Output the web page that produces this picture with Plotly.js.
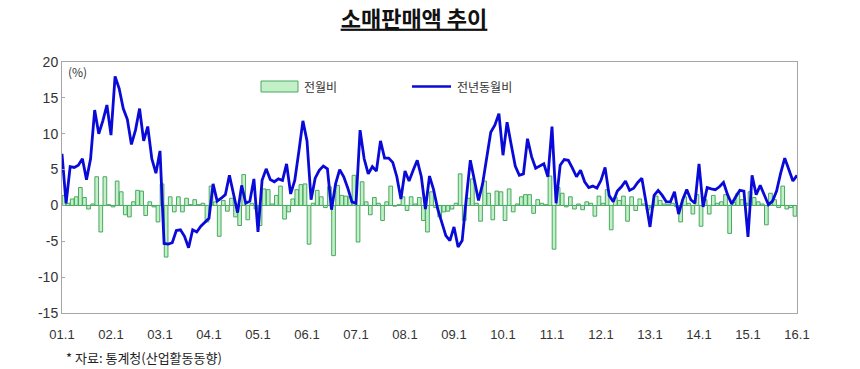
<!DOCTYPE html>
<html>
<head>
<meta charset="utf-8">
<script src="https://cdn.plot.ly/plotly-3.0.1.min.js"></script>
<style>html,body{margin:0;padding:0;background:#fff;}#chart{width:860px;height:369px;}</style>
</head>
<body>
<div id="chart"></div>
<script>
// Year tick labels (every 12 months from 2001.1)
const tickLabels = ["01.1","02.1","03.1","04.1","05.1","06.1","07.1","08.1","09.1","10.1","11.1","12.1","13.1","14.1","15.1","16.1"];
// Y tick values / labels
const yTickVals = [-15, -10, -5, 0, 5, 10, 15, 20];
const yTickText = ["-15", "-10", "-5", "0", "5", "10", "15", "20"];

// 전년동월비 (year-on-year, %), monthly 2001.1 ~ 2016.1
const yoy = [
  7.2, 0.3, 5.4, 5.3, 5.6, 6.5, 3.6, 6.5, 13.3, 10.0, 11.8, 14.0, 9.8,
  18.0, 16.3, 13.5, 12.0, 8.5, 10.5, 13.5, 9.0, 11.0, 6.5, 4.5, 7.6,
  -5.3, -5.4, -5.2, -3.5, -3.4, -4.3, -5.9, -3.4, -3.7, -2.9, -2.4, -1.8,
  3.0, 0.6, 1.0, 1.5, 4.2, 1.6, -1.0, 2.8, 0.3, 0.6, 3.7, -3.7,
  3.5, 5.1, 3.6, 3.3, 3.7, 3.5, 5.8, 1.6, 3.5, 7.5, 11.8, 9.0,
  0.8, 3.8, 4.9, 5.5, 5.1, -0.6, 3.0, 5.0, 4.0, 2.4, 0.5, 0.3,
  10.5, 6.5, 4.4, 5.4, 4.8, 9.0, 6.6, 6.6, 6.0, 4.0, 0.9, 4.8,
  3.4, 4.9, 6.3, 4.0, -0.5, 4.1, 2.2, -0.5, -2.5, -4.2, -4.9, -3.0,
  -5.8, -4.9, 0.9, 6.3, 3.5, 0.7, 3.0, 6.8, 10.2, 11.2, 12.8, 7.0,
  11.6, 8.5, 5.5, 4.2, 4.4, 9.3, 6.8, 5.2, 5.5, 5.8, 4.0, 11.0,
  0.3, 5.6, 6.4, 6.3, 5.2, 4.0, 4.9, 3.3, 2.5, 2.7, 2.4, 3.5,
  5.3, 1.4, 0.5, 2.0, 2.6, 3.4, 2.1, 2.4, 3.2, 3.8, 0.5, -3.0,
  1.4, 2.1, 1.4, 0.5, 0.5, 1.9, -1.2, 0.8, 2.2, 0.8, 0.3, 5.8,
  -0.2, 2.5, 2.3, 2.2, 2.6, 3.2, 1.5, 0.2, 1.2, 2.1, 2.0, -4.4,
  4.2, 1.5, 2.8, 1.5, 0.1, 0.6, 2.0, 4.5, 6.6, 5.0, 3.4, 4.2
];

// 전월비 (month-on-month, %)
const mom = [
  1.4, 0.3, 0.9, 1.2, 2.5, 1.1, -0.5, 0.2, 4.0, -3.7, 4.0, 0.1,
  -0.2, 3.4, 1.9, -1.3, -1.6, 0.5, 2.1, 2.0, -1.4, 0.5, -0.2, -2.3,
  3.0, -7.2, 1.2, -0.9, 1.2, -0.9, 1.0, 0.1, 0.8, 0.1, 0.3, -2.3,
  2.7, 0.5, -4.3, 0.7, -0.8, 1.0, -1.6, -2.8, 4.3, -2.0, 0.3, -0.5,
  -2.8, 2.3, 2.2, 0.2, 1.4, 2.7, -1.9, -0.9, 0.9, 2.2, 2.9, 3.0,
  -5.4, 0.3, 2.1, 1.2, -0.3, 2.6, -7.0, 2.8, 1.4, 1.3, 1.2, 4.2,
  -5.1, 3.3, 0.5, -1.3, 1.1, 0.3, -2.1, 0.5, 2.7, -0.1, 0.1, 1.2,
  -0.7, 1.2, 0.2, 1.1, -2.1, -3.7, 1.9, -0.3, -1.6, -0.9, -0.8, -0.5,
  0.3, 4.4, -2.1, 1.0, 3.7, 0.3, -2.2, 3.4, 1.7, -2.0, 2.0, 1.9,
  -2.1, 2.3, -0.9, 0.2, 1.2, 1.5, 1.5, -1.1, 0.8, 0.3, 0.1, 4.1,
  -6.1, 2.5, 1.7, -0.2, 1.2, -0.5, 0.2, -0.6, 0.5, 0.3, -1.5, 1.3,
  0.3, 2.2, -3.4, 1.1, 0.7, 1.3, -2.2, 1.2, -0.7, 0.9, 0.2, -0.6,
  -0.3, 1.3, 0.7, 0.2, 0.1, 0.3, -0.2, -2.3, 1.2, 0.3, -1.2, 1.5,
  -2.9, 0.8, -1.2, 1.4, 0.3, 0.5, 1.5, -3.9, 0.4, 1.7, 0.8, 0.3,
  1.9, 1.1, 0.5, 0.2, -2.7, 1.7, 0.8, -0.3, 2.7, -0.5, -0.3, -1.5
];

const seriesNames = ["전월비", "전년동월비"];

const yoyX = yoy.map((_, i) => i);
const momX = mom.map((_, i) => i);
const tickVals = tickLabels.map((_, i) => i * 12);

const KR = '"Noto Sans CJK KR", "Noto Sans", sans-serif';

const traces = [
  {
    type: 'bar', name: seriesNames[0], x: momX, y: mom,
    offset: 0.05, width: 0.9,
    marker: {color: '#c4f0c8', line: {color: '#48a862', width: 1}},
    showlegend: false, hoverinfo: 'skip'
  },
  {
    type: 'scatter', mode: 'lines', name: seriesNames[1], x: yoyX, y: yoy,
    line: {color: '#0a0ad8', width: 2.8},
    showlegend: false, hoverinfo: 'skip'
  }
];

// plot area in pixels: x 62..797, y 62..313
const W = 735, H = 251, L = 62, T = 62;
const px = x => (x - L) / W;
const py = y => (T + H - y) / H;

const layout = {
  width: 860, height: 369,
  margin: {l: 62, r: 63, t: 62, b: 56},
  paper_bgcolor: '#fff', plot_bgcolor: '#fff',
  title: {
    text: '<b><u>소매판매액 추이</u></b>',
    font: {family: KR, size: 22, color: '#111'},
    x: 414 / 860, xanchor: 'center', xref: 'container',
    y: 1 - 19 / 369, yanchor: 'middle', yref: 'container'
  },
  xaxis: {
    range: [0, 180], tickvals: tickVals, ticktext: tickLabels,
    showgrid: false, zeroline: false,
    showline: true, linecolor: '#a6a6a6', linewidth: 1, mirror: true,
    ticks: 'outside', ticklen: 9, tickcolor: 'rgba(0,0,0,0)',
    tickfont: {family: 'Liberation Sans, Arial, sans-serif', size: 13, color: '#333'}
  },
  yaxis: {
    range: [-15, 20], tickvals: yTickVals, ticktext: yTickText,
    showgrid: false,
    zeroline: true, zerolinecolor: '#8c8c8c', zerolinewidth: 1.5,
    showline: true, linecolor: '#a6a6a6', linewidth: 1, mirror: true,
    ticks: 'inside', ticklen: 3, tickcolor: '#a6a6a6',
    tickfont: {family: 'Liberation Sans, Arial, sans-serif', size: 14, color: '#333'}
  },
  showlegend: false,
  shapes: [
    {type: 'rect', xref: 'paper', yref: 'paper', x0: px(261), x1: px(298), y0: py(92), y1: py(81),
     fillcolor: '#c4f0c8', line: {color: '#48a862', width: 1}},
    {type: 'line', xref: 'paper', yref: 'paper', x0: px(412), x1: px(451), y0: py(86.5), y1: py(86.5),
     line: {color: '#0a0ad8', width: 2.6}}
  ],
  annotations: [
    {text: '(%)', xref: 'paper', yref: 'paper', x: px(66), y: py(72), xanchor: 'left', yanchor: 'middle',
     showarrow: false, font: {family: KR, size: 12, color: '#333'}},
    {text: seriesNames[0], xref: 'paper', yref: 'paper', x: px(302), y: py(86.5), xanchor: 'left', yanchor: 'middle',
     showarrow: false, font: {family: KR, size: 12, color: '#333'}},
    {text: seriesNames[1], xref: 'paper', yref: 'paper', x: px(455), y: py(86.5), xanchor: 'left', yanchor: 'middle',
     showarrow: false, font: {family: KR, size: 12, color: '#333'}},
    {text: '* 자료: 통계청(산업활동동향)', xref: 'paper', yref: 'paper', x: px(64), y: py(357), xanchor: 'left', yanchor: 'middle',
     showarrow: false, font: {family: KR, size: 13, color: '#222'}}
  ]
};

Plotly.newPlot('chart', traces, layout, {staticPlot: true, displayModeBar: false});
</script>
</body>
</html>
